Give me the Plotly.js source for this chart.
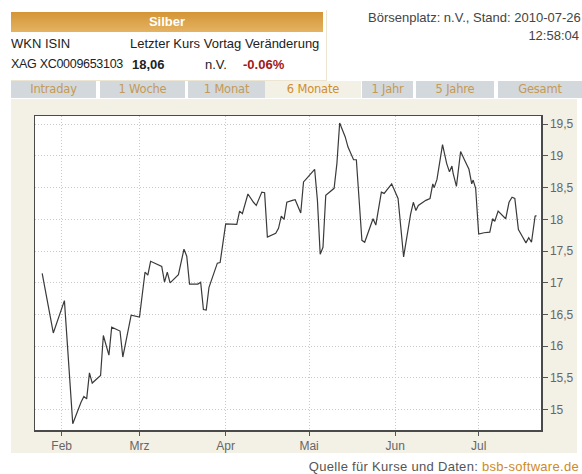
<!DOCTYPE html>
<html>
<head>
<meta charset="utf-8">
<script src="https://cdn.plot.ly/plotly-3.0.1.min.js"></script>
<style>
  html, body { margin:0; padding:0; width:582px; height:474px; overflow:hidden; background:#ffffff;
    font-family:"Liberation Sans", Arial, sans-serif; }
  .abs { position:absolute; white-space:nowrap; }
  #panel { position:absolute; left:11px; top:99px; width:566px; height:354px; background:#f3f0e6; }
  #chart { position:absolute; left:0; top:0; width:582px; height:474px; }
  #hdrbox { position:absolute; left:11px; top:10px; width:315px; height:70px; overflow:hidden; background:#fff;
    border-right:1px solid #ece5d2; border-bottom:1px solid #ece5d2; }
  #silber { position:absolute; left:0; top:2px; width:312px; height:20px;
    background:linear-gradient(#d49535,#e4b363); color:#fff; font-weight:bold; font-size:13px;
    text-align:center; line-height:20px; }
  .row { position:absolute; font-size:13px; color:#222; line-height:15px; }
  .tab { position:absolute; top:81px; height:17px; line-height:17px; background:#d3d8dc; color:#c49a55;
    font-size:11.5px; text-align:center; font-family:"DejaVu Sans",sans-serif; letter-spacing:-0.2px; }
  .tab.active { background:#f3f0e6; color:#d08e2a; }
</style>
</head>
<body>
<div id="panel"></div>
<div id="hdrbox">
  <div id="silber">Silber</div>
  <div class="row" style="left:0px; top:26px;">WKN ISIN</div>
  <div class="row" style="left:119px; top:26px;">Letzter Kurs Vortag Veränderung</div>
  <div class="row" style="left:0px; top:47px; font-size:12.5px; letter-spacing:-0.3px;">XAG XC0009653103</div>
  <div class="row" style="left:121px; top:47px; font-weight:bold;">18,06</div>
  <div class="row" style="left:194px; top:47px;">n.V.</div>
  <div class="row" style="left:232px; top:47px; font-weight:bold; color:#a01818;">-0.06%</div>
</div>
<div class="abs" style="left:368px; top:10px; font-size:13px; color:#444;">Börsenplatz: n.V., Stand: 2010-07-26</div>
<div class="abs" style="right:3px; top:28px; font-size:13px; color:#444;">12:58:04</div>

<div class="tab" style="left:11px; width:85px;">Intraday</div>
<div class="tab" style="left:100px; width:85px;">1 Woche</div>
<div class="tab" style="left:188px; width:77px;">1 Monat</div>
<div class="tab active" style="left:265px; width:96px;">6 Monate</div>
<div class="tab" style="left:362px; width:51px;">1 Jahr</div>
<div class="tab" style="left:416px; width:78px;">5 Jahre</div>
<div class="tab" style="left:498px; width:84px;">Gesamt</div>

<div id="chart"></div>
<div class="abs" style="right:3px; top:459px; font-size:13px; letter-spacing:0.3px; color:#555;">Quelle für Kurse und Daten: <span style="color:#d08a1e;">bsb-software.de</span></div>

<script>
const dates = [
 '2010-01-25','2010-01-29','2010-02-02','2010-02-05','2010-02-08','2010-02-09','2010-02-10','2010-02-11',
 '2010-02-12','2010-02-15','2010-02-16','2010-02-18','2010-02-19','2010-02-22','2010-02-23','2010-02-26',
 '2010-03-01','2010-03-03','2010-03-04','2010-03-05','2010-03-09','2010-03-10','2010-03-11','2010-03-12',
 '2010-03-15','2010-03-17','2010-03-18','2010-03-19','2010-03-22','2010-03-23','2010-03-24','2010-03-25',
 '2010-03-26','2010-03-29','2010-03-30','2010-04-01','2010-04-05','2010-04-06','2010-04-07','2010-04-09',
 '2010-04-11','2010-04-12','2010-04-14','2010-04-15','2010-04-16','2010-04-19','2010-04-20','2010-04-21',
 '2010-04-22','2010-04-23','2010-04-25','2010-04-26','2010-04-28','2010-04-29','2010-04-30','2010-05-03',
 '2010-05-04','2010-05-05','2010-05-06','2010-05-07','2010-05-10','2010-05-11','2010-05-12','2010-05-14',
 '2010-05-15','2010-05-17','2010-05-18','2010-05-20','2010-05-21','2010-05-24','2010-05-25','2010-05-27',
 '2010-05-28','2010-05-30 17:00','2010-06-02','2010-06-04','2010-06-06 12:00','2010-06-07 12:00','2010-06-08 10:00','2010-06-09 07:00',
 '2010-06-12','2010-06-13 12:00','2010-06-14 12:00','2010-06-15','2010-06-16','2010-06-17','2010-06-18','2010-06-19 12:00',
 '2010-06-20 12:00','2010-06-21 09:00','2010-06-21 19:00','2010-06-23','2010-06-24 12:00','2010-06-26','2010-06-27 12:00','2010-06-28 12:00',
 '2010-06-29','2010-06-29 22:00','2010-07-01','2010-07-02 22:00','2010-07-05','2010-07-06','2010-07-06 19:00','2010-07-08',
 '2010-07-10 17:00','2010-07-11 22:00','2010-07-13','2010-07-14','2010-07-15 07:00','2010-07-16 17:00','2010-07-18','2010-07-19',
 '2010-07-20','2010-07-21 07:00','2010-07-21 19:00'
];
const prices = [
 17.15,16.21,16.72,14.78,15.12,15.21,15.17,15.58,
 15.42,15.54,16.17,15.86,16.30,16.24,15.83,16.49,
 16.46,17.17,17.12,17.34,17.26,17.01,17.17,17.00,
 17.13,17.53,17.42,16.98,16.98,17.01,16.58,16.57,
 16.93,17.31,17.32,17.93,17.92,18.13,18.09,18.40,
 18.27,18.22,18.43,18.42,17.72,17.78,17.86,18.05,
 18.00,18.27,18.30,18.31,18.10,18.59,18.64,18.79,
 18.30,17.45,17.56,18.38,18.49,18.88,19.52,19.30,
 19.14,18.94,18.94,17.67,17.64,18.01,17.91,18.43,
 18.41,18.56,18.33,17.41,18.08,18.27,18.14,18.22,
 18.30,18.33,18.56,18.50,18.63,18.91,19.18,18.88,
 18.75,18.84,18.73,18.52,19.07,18.93,18.79,18.56,
 18.62,18.49,17.77,17.79,17.80,18.01,17.97,18.13,
 18.01,18.27,18.35,18.33,17.84,17.73,17.63,17.71,
 17.64,18.05,18.06
];
const monthTicks = ['2010-02-01','2010-03-01','2010-04-01','2010-05-01','2010-06-01','2010-07-01'];
const monthLabels = ['Feb','Mrz','Apr','Mai','Jun','Jul'];
const xRange = ['2010-01-22 10:00','2010-07-23 10:00'];
const yRange = [14.68, 19.63];
const yTicks = [15,15.5,16,16.5,17,17.5,18,18.5,19,19.5];

const trace = {
  x: dates, y: prices, type:'scatter', mode:'lines',
  line:{color:'#3a3a3a', width:1.2}, hoverinfo:'skip'
};
const axisCommon = {
  showline:true, mirror:true, linecolor:'#4a4a4a', linewidth:1.5,
  showgrid:true, gridcolor:'#c9c9c9', griddash:'1px,2px', gridwidth:1,
  ticks:'outside', ticklen:5, tickcolor:'#555', tickwidth:1,
  tickfont:{family:'"Liberation Sans", Arial, sans-serif', size:12, color:'#666'},
  zeroline:false, fixedrange:true
};
const layout = {
  width:582, height:474, autosize:false,
  margin:{l:35, r:41, t:116, b:44, pad:0},
  paper_bgcolor:'rgba(0,0,0,0)', plot_bgcolor:'#ffffff',
  separators:', ',
  showlegend:false,
  xaxis: Object.assign({}, axisCommon, {
    type:'date', range:xRange, tickmode:'array', tickvals:monthTicks, ticktext:monthLabels, ticklen:4
  }),
  yaxis: Object.assign({}, axisCommon, {
    side:'right', range:yRange, tickmode:'array', tickvals:yTicks,
    ticktext: yTicks.map(v => String(v).replace('.', ','))
  })
};
Plotly.newPlot('chart', [trace], layout, {staticPlot:true, displayModeBar:false});
</script>
</body>
</html>
